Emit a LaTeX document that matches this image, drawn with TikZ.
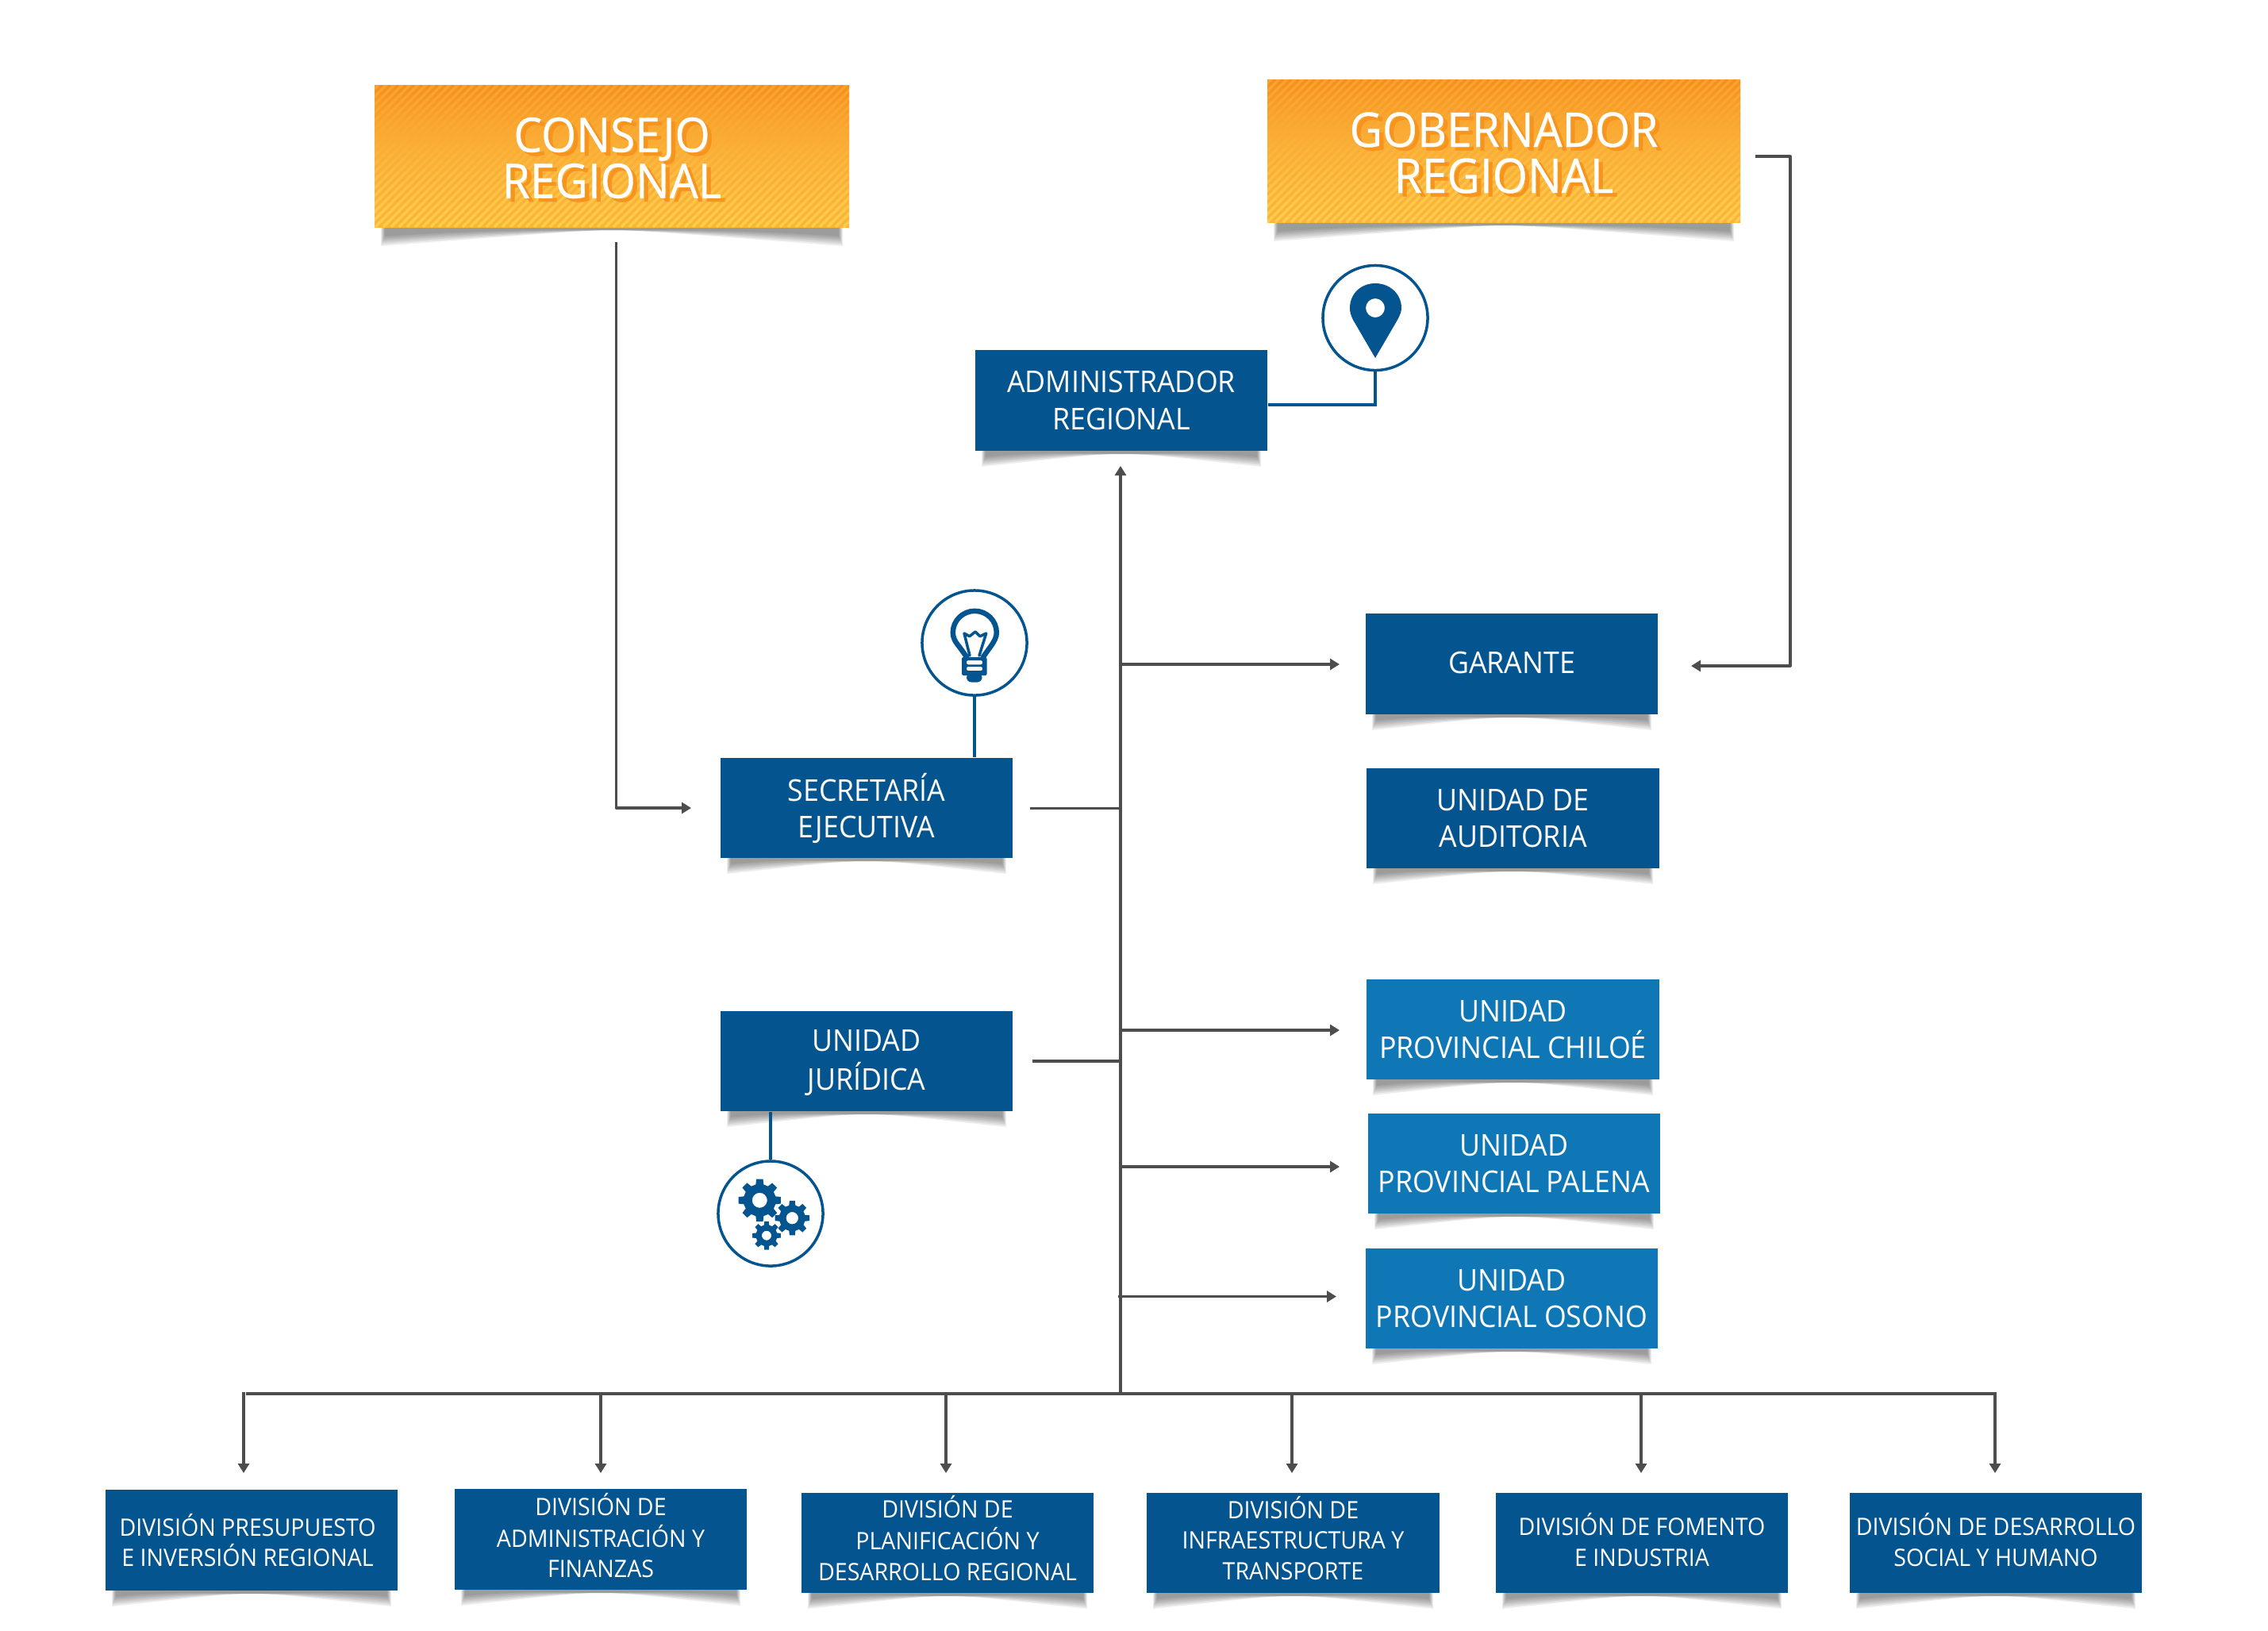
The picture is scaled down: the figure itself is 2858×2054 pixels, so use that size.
\documentclass[tikz,border=0pt]{standalone}
\usepackage{fontspec}
\setmainfont{Open Sans}[FakeStretch=0.945]
\newfontfamily\titlefont{Open Sans}[FakeStretch=0.945,FakeBold=0.5]
\usetikzlibrary{arrows.meta,fadings}
\definecolor{navy}{HTML}{04558F}
\definecolor{midblue}{HTML}{0F77B6}
\definecolor{conn}{HTML}{4D4D4D}
\definecolor{orTop}{HTML}{FBA232}
\definecolor{orMid}{HTML}{FBAD3A}
\definecolor{orBot}{HTML}{FCB43C}
\definecolor{orStripe}{HTML}{F58E16}
\definecolor{yeStripe}{HTML}{FFD04C}
\definecolor{orShade}{HTML}{F7941E}
\tikzfading[name=stripeTop, top color=transparent!10, bottom color=transparent!100]
\tikzfading[name=stripeBot, top color=transparent!100, bottom color=transparent!5]
\tikzset{
  darkbox/.style={fill=navy,text=white},
  lightbox/.style={fill=midblue,text=white},
  orangebox/.style={top color=orTop,bottom color=orBot,middle color=orMid},
  labelL/.style={font=\fontsize{10.75}{13.1}\selectfont,align=center},
  labelS/.style={font=\fontsize{8.6}{11}\selectfont,align=center},
  titleT/.style={font=\titlefont\fontsize{17.1}{16.5}\selectfont,align=center,inner sep=0pt},
  conline/.style={draw=conn,line width=0.032cm,line join=round},
  conarrow/.style={conline,-{Triangle[length=0.12cm,width=0.14cm]}},
  iconring/.style={circle,draw=navy,fill=white,line width=0.035cm,minimum size=1.32cm,inner sep=0pt},
  iconlink/.style={draw=navy,line width=0.04cm,line join=miter},
}
% shifts a stack of lines without changing its reported size
\newcommand\liftlines[2]{\raisebox{#1}[\height][\depth]{\begin{tabular}{@{}c@{}}#2\end{tabular}}}
% shadow under a box: x0, x1, bottom, depth
\newcommand\undershade[4]{%
  \foreach \i in {0,...,6}{%
    \pgfmathsetmacro\ins{#1+8+\i*0.8}%
    \pgfmathsetmacro\ine{#2-8-\i*0.8}%
    \pgfmathsetmacro\dep{#3+#4-\i*2.0}%
    \pgfmathsetmacro\mid{#3+4}%
    \pgfmathsetmacro\cx{(#1+#2)/2}%
    \pgfmathsetmacro\qa{\ins+(\cx-\ins)*0.45}%
    \pgfmathsetmacro\qb{\ine-(\ine-\cx)*0.45}%
    \fill[black,opacity=0.068] (\ins,#3) -- (\ins,\dep) .. controls (\qa,\dep-#4*0.4) and (\cx-40,\mid) .. (\cx,\mid) .. controls (\cx+40,\mid) and (\qb,\dep-#4*0.4) .. (\ine,\dep) -- (\ine,#3) -- cycle;
  }%
}
% name, x0,y0,x1,y1, style, text
\newcommand\orgbox[7]{%
  \undershade{#2}{#4}{#5}{20}%
  \node[rectangle,inner sep=0pt,minimum width={(#4-#2)*0.01cm},minimum height={(#5-#3)*0.01cm},#6] (#1) at ({(#2+#4)/2},{(#3+#5)/2}) {#7};%
}
% name, x0,y0,x1,y1, line 1/2
\newcommand\titlebox[7]{%
  \undershade{#2}{#4}{#5}{24}%
  \node[rectangle,inner sep=0pt,minimum width={(#4-#2)*0.01cm},minimum height={(#5-#3)*0.01cm},orangebox] (#1) at ({(#2+#4)/2},{(#3+#5)/2}) {};%
  \begin{scope}
    \clip (#2,#3) rectangle (#4,#5);
    \pgfmathsetmacro\hh{#5-#3}%
    \pgfmathsetmacro\st{#2-\hh}%
    \pgfmathsetmacro\sn{\st+10}%
    \draw[orStripe,line width=0.035cm,path fading=stripeTop] \foreach \k in {\st,\sn,...,#4}{(\k,#5) -- ({\k+\hh},#3)};
    \draw[yeStripe,line width=0.035cm,path fading=stripeBot] \foreach \k in {\st,\sn,...,#4}{(\k,#5) -- ({\k+\hh},#3)};
  \end{scope}%
  \node[titleT,text=orShade] (#1shade) at ([xshift=0.055cm,yshift=-0.07cm]#1.center) {#6\\#7};%
  \node[titleT,text=white] (#1text) at ([yshift=-0.025cm]#1.center) {#6\\#7};%
}
% gear: cx, cy, outer, root, hole (in cm), phase
\newcommand\geartooth[6]{%
  \begin{scope}[shift={(#1,#2)}]
    \fill[navy,even odd rule,line join=round] (#6-14:#4cm)
      \foreach \a in {0,45,...,315}{
        -- ({\a+#6-14}:#4cm) -- ({\a+#6-9}:#3cm) -- ({\a+#6+9}:#3cm) -- ({\a+#6+14}:#4cm)
      } -- cycle
      (0,0) circle[radius=#5cm];
  \end{scope}%
}
\begin{document}
\begin{tikzpicture}[x=0.01cm,y=-0.01cm]
\useasboundingbox (0,0) rectangle (2858,2054);
\fill[white] (0,0) rectangle (2858,2054);

% title boxes
\titlebox{cons}{472}{107}{1070}{286}{CONSEJO}{REGIONAL}
\titlebox{gob}{1597}{100}{2193}{280}{GOBERNADOR}{REGIONAL}

% units
\orgbox{adm}{1229}{441}{1597}{568}{darkbox,labelL}{ADMINISTRADOR\\REGIONAL}
\orgbox{sec}{908}{955}{1276}{1081}{darkbox,labelL}{SECRETARÍA\\EJECUTIVA}
\orgbox{jur}{908}{1274}{1276}{1400}{darkbox,labelL}{\liftlines{-0.9pt}{UNIDAD\\JURÍDICA}}
\orgbox{gar}{1721}{773}{2089}{900}{darkbox,labelL}{\liftlines{-0.9pt}{GARANTE}}
\orgbox{aud}{1722}{968}{2091}{1094}{darkbox,labelL}{UNIDAD DE\\AUDITORIA}
\orgbox{chi}{1722}{1234}{2091}{1360}{lightbox,labelL}{UNIDAD\\PROVINCIAL CHILOÉ}
\orgbox{pal}{1724}{1403}{2092}{1529}{lightbox,labelL}{UNIDAD\\PROVINCIAL PALENA}
\orgbox{oso}{1721}{1573}{2089}{1699}{lightbox,labelL}{UNIDAD\\PROVINCIAL OSONO}

% divisions
\orgbox{d1}{133}{1877}{501}{2004}{darkbox,labelS}{\mbox{DIVISIÓN PRESUPUESTO\kern2.8pt}\\\mbox{E INVERSIÓN REGIONAL\kern2.8pt}}
\orgbox{d2}{573}{1876}{941}{2003}{darkbox,labelS}{\liftlines{-0.2pt}{DIVISIÓN DE\\ADMINISTRACIÓN Y\\FINANZAS}}
\orgbox{d3}{1010}{1881}{1378}{2007}{darkbox,labelS}{\liftlines{0.1pt}{DIVISIÓN DE\\PLANIFICACIÓN Y\\DESARROLLO REGIONAL}}
\orgbox{d4}{1445}{1881}{1814}{2007}{darkbox,labelS}{\liftlines{0.1pt}{DIVISIÓN DE\\INFRAESTRUCTURA Y\\TRANSPORTE}}
\orgbox{d5}{1885}{1881}{2253}{2007}{darkbox,labelS}{\liftlines{-0.55pt}{DIVISIÓN DE FOMENTO\\E INDUSTRIA}}
\orgbox{d6}{2331}{1881}{2699}{2007}{darkbox,labelS}{\liftlines{-0.55pt}{DIVISIÓN DE DESARROLLO\\SOCIAL Y HUMANO}}

% junction coordinates
\coordinate (trunkTop) at (1412,587);
\coordinate (trunkBot) at (1412,1756);
\coordinate (busL) at (310,1756);
\coordinate (busR) at (2515,1756);
\coordinate (consOut) at (776.5,305);
\coordinate (consCorner) at (776.5,1018);
\coordinate (secIn) at (871,1018);
\coordinate (gobOut) at (2212,197);
\coordinate (gobC1) at (2256,197);
\coordinate (gobC2) at (2256,839);
\coordinate (garR) at (2131,839);
\coordinate (secOut) at (1298,1018.5);
\coordinate (secT) at (1412,1018.5);
\coordinate (jurOut) at (1301,1337);
\coordinate (jurT) at (1412,1337);
\coordinate (garT) at (1412,837);
\coordinate (garL) at (1688,837);
\coordinate (chiT) at (1412,1298);
\coordinate (chiL) at (1688,1298);
\coordinate (palT) at (1412,1470);
\coordinate (palL) at (1688,1470);
\coordinate (osoT) at (1409,1633.5);
\coordinate (osoL) at (1684,1633.5);
\foreach \n/\x in {1/307,2/757,3/1192,4/1628,5/2068,6/2514}{
  \coordinate (bus\n) at (\x,1754);
  \coordinate (arr\n) at (\x,1856);
}

% connectors
\draw[conarrow] (trunkBot) -- (trunkTop);
\draw[conline] (busL) -- (busR);
\foreach \n in {1,...,6}{\draw[conarrow] (bus\n) -- (arr\n);}
\draw[conarrow] (consOut) -- (consCorner) -- (secIn);
\draw[conarrow] (gobOut) -- (gobC1) -- (gobC2) -- (garR);
\draw[conline] (secOut) -- (secT);
\draw[conline] (jurOut) -- (jurT);
\draw[conarrow] (garT) -- (garL);
\draw[conarrow] (chiT) -- (chiL);
\draw[conarrow] (palT) -- (palL);
\draw[conarrow] (osoT) -- (osoL);

% icon rings
\node[iconring] (pinring) at (1733,400.5) {};
\node[iconring] (bulbring) at (1228,810) {};
\node[iconring] (gearring) at (971,1529) {};
\coordinate (admElbow) at (1733,510);
\draw[iconlink] (pinring.south) -- (admElbow) -- (admElbow -| adm.east);
\draw[iconlink] (bulbring.south) -- (bulbring.south |- sec.north);
\draw[iconlink] (gearring.north) -- (gearring.north |- jur.south);

% pin
\fill[navy,even odd rule] (1733,451) -- (1705,403) .. controls (1702,397) and (1701,393) .. (1701,388)
  .. controls (1701,370) and (1715,357) .. (1733,357)
  .. controls (1751,357) and (1766,370) .. (1766,388)
  .. controls (1766,393) and (1764,397) .. (1761,403) -- cycle
  (1733,388) circle[radius=0.12cm];

% bulb
\draw[navy,line width=0.065cm,line join=round] (1219,829) -- (1209,815) .. controls (1203,808) and (1200.8,803) .. (1200.8,797)
  .. controls (1200.8,782) and (1213,769.8) .. (1228.3,769.8)
  .. controls (1243.5,769.8) and (1255.8,782) .. (1255.8,797)
  .. controls (1255.8,803) and (1253,808) .. (1248,815) -- (1238,829);
\draw[navy,line width=0.035cm,line join=round,line cap=round] (1222,826) -- (1215,798) -- (1221.7,801.7) -- (1229,796) -- (1235,801.7) -- (1242.7,798) -- (1234,826);
\fill[navy,even odd rule,rounded corners=0.02cm] (1212,828) rectangle (1243.5,851)
  (1218,832) rectangle (1238,837.3) (1218,840) rectangle (1238,845);
\fill[navy,rounded corners=0.06cm] (1218,848) rectangle (1237.5,859.5);

% gears
\geartooth{957.3}{1512.3}{0.27}{0.205}{0.095}{0}
\geartooth{998.3}{1534.7}{0.22}{0.165}{0.077}{0}
\geartooth{966}{1556.7}{0.18}{0.135}{0.06}{0}
\end{tikzpicture}
\end{document}
